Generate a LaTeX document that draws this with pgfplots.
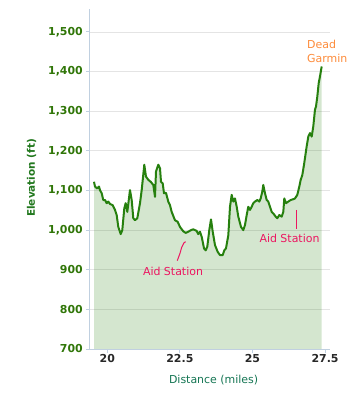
\documentclass[border=0pt]{standalone}
\usepackage{fontspec}
\setmainfont{DejaVu Sans}
\usepackage{pgfplots}
\pgfplotsset{compat=1.18}
\usepackage{pgfplotstable}
\definecolor{linegreen}{RGB}{38,128,14}
\definecolor{axisgray}{RGB}{192,208,224}
\definecolor{gridgray}{RGB}{228,228,228}
\definecolor{ytickgreen}{RGB}{48,118,8}
\definecolor{ylabgreen}{RGB}{34,120,30}
\definecolor{xlabteal}{RGB}{22,118,84}
\definecolor{xtickdark}{RGB}{40,40,40}
\definecolor{aidpink}{RGB}{236,22,96}
\definecolor{garminorange}{RGB}{253,139,58}

\pgfplotstableread{
x y
19.543 1122
19.577 1110
19.656 1105
19.715 1110
19.749 1101
19.808 1093
19.863 1076
19.922 1076
19.980 1068
20.035 1072
20.094 1066
20.187 1063
20.266 1051
20.324 1038
20.380 1008
20.462 990
20.517 1000
20.586 1055
20.634 1068
20.690 1046
20.782 1101
20.841 1076
20.896 1030
20.955 1025
21.034 1030
21.127 1068
21.185 1101
21.275 1165
21.333 1135
21.413 1127
21.495 1122
21.585 1114
21.643 1084
21.678 1148
21.757 1165
21.816 1156
21.850 1122
21.909 1118
21.953 1093
22.022 1094
22.101 1072
22.160 1063
22.218 1046
22.332 1025
22.425 1021
22.504 1008
22.618 997
22.701 993
22.790 996
22.883 1000
22.962 1002
23.079 998
23.134 990
23.193 996
23.252 983
23.331 954
23.389 949
23.444 958
23.513 1000
23.572 1027
23.631 996
23.710 962
23.803 945
23.882 937
23.975 937
24.030 949
24.088 954
24.168 987
24.226 1059
24.285 1089
24.340 1072
24.398 1080
24.457 1059
24.512 1034
24.605 1008
24.684 1000
24.743 1013
24.801 1038
24.856 1059
24.915 1051
24.973 1059
25.029 1068
25.087 1072
25.166 1076
25.235 1072
25.283 1080
25.338 1097
25.373 1114
25.431 1093
25.490 1076
25.545 1072
25.604 1059
25.662 1046
25.717 1042
25.800 1034
25.855 1030
25.924 1038
26.006 1034
26.062 1046
26.096 1080
26.154 1068
26.234 1072
26.316 1076
26.406 1078
26.464 1080
26.544 1089
26.613 1110
26.661 1127
26.716 1139
26.775 1165
26.868 1212
26.923 1236
26.981 1245
27.040 1236
27.095 1262
27.153 1304
27.188 1312
27.233 1337
27.281 1371
27.325 1388
27.384 1413
}\elev

\begin{document}
\begin{tikzpicture}
\begin{axis}[
  name=ax, at={(0,0)}, anchor=south west,
  scale only axis, width=240bp, height=340bp,
  xmin=19.405, xmax=27.67, ymin=700, ymax=1558,
  clip mode=individual,
  axis x line=bottom, axis y line=left,
  axis line style={-, draw=axisgray, line width=1bp},
  tick align=outside, major tick length=4bp,
  tick style={draw=axisgray, line width=1bp},
  xtick={20,22.5,25,27.5}, ytick={700,800,...,1500},
  scaled y ticks=false,
  /pgf/number format/assume math mode=true,
  /pgf/number format/1000 sep={,},
  ymajorgrids, grid style={draw=gridgray, line width=0.8bp},
  xticklabel style={font=\fontsize{11}{13}\selectfont\bfseries, text=xtickdark, inner sep=1.5bp},
  yticklabel style={font=\fontsize{11}{13}\selectfont\bfseries, text=ytickgreen, inner sep=3bp},
  every axis y label/.style={at={(axis description cs:0,0.503)}, anchor=center, xshift=-58.5bp, rotate=90, font=\fontsize{10.5}{12}\selectfont\bfseries, text=ylabgreen},
  every axis x label/.style={at={(axis description cs:0.515,0)}, anchor=center, yshift=-31bp, font=\fontsize{11}{13}\selectfont, text=xlabteal},
  ylabel={Elevation (ft)}, xlabel={Distance (miles)},
]
\addplot[draw=none, fill=linegreen, fill opacity=0.2] table[x=x,y=y] {\elev} \closedcycle;
\addplot[draw=linegreen, line width=2bp, line join=round, mark=none] table[x=x,y=y] {\elev};
\node[anchor=west, align=left, inner sep=0pt, text=garminorange, font=\fontsize{11}{14}\selectfont] at (axis cs:26.878,1450) {Dead\\Garmin};
\node[anchor=center, inner sep=0pt, text=aidpink, font=\fontsize{11}{13}\selectfont] at (axis cs:22.263,897) {Aid Station};
\draw[aidpink, line width=1bp] (axis cs:22.411,923) -- (axis cs:22.504,941.5) -- (axis cs:22.563,956.6) -- (axis cs:22.642,968.2) -- (axis cs:22.701,970.8);
\node[anchor=center, inner sep=0pt, text=aidpink, font=\fontsize{11}{13}\selectfont] at (axis cs:26.275,979) {Aid Station};
\draw[aidpink, line width=1bp] (axis cs:26.499,1051) -- (axis cs:26.499,1003);
\end{axis}
\pgfresetboundingbox
\useasboundingbox (ax.south west) ++(-90bp,-61bp) rectangle ++(354bp,410bp);
\end{tikzpicture}
\end{document}
